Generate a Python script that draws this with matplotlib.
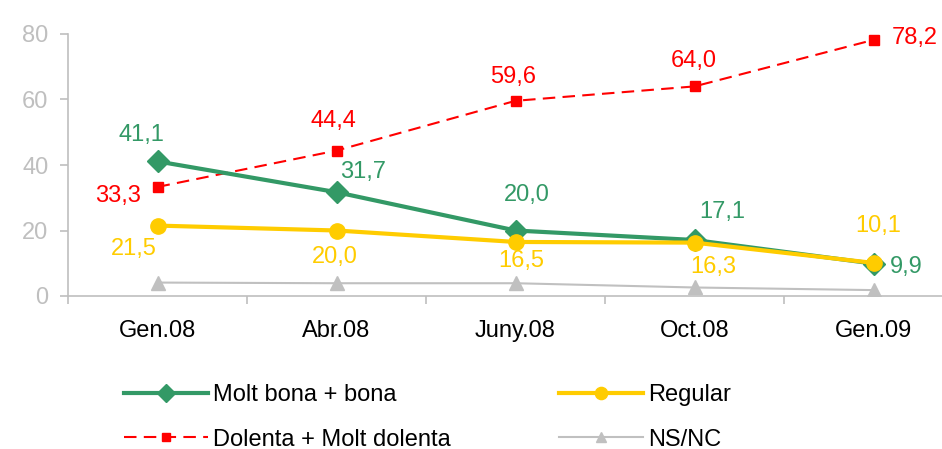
import matplotlib.pyplot as plt
from matplotlib.ticker import FixedLocator

plt.rcParams['font.family'] = ['Liberation Sans', 'DejaVu Sans']

periods = ['Gen.08', 'Abr.08', 'Juny.08', 'Oct.08', 'Gen.09']
bona = [41.1, 31.7, 20.0, 17.1, 9.9]
regular = [21.5, 20.0, 16.5, 16.3, 10.1]
dolenta = [33.3, 44.4, 59.6, 64.0, 78.2]
nsnc = [4.1, 3.9, 3.9, 2.6, 1.8]

green = '#339966'
yellow = '#FFCC00'
red = '#FF0000'
grey = '#C0C0C0'

fig = plt.figure(figsize=(9.42, 4.49), dpi=100)
ax = fig.add_axes([68 / 942, 153 / 449, 895 / 942, 262 / 449])

x = range(len(periods))
ax.plot(x, nsnc, color=grey, lw=1.5, marker='^', ms=9.5, label='NS/NC')
ax.plot(x, dolenta, color=red, lw=1.5, ls=(0, (6, 3.5)), marker='s', ms=7.7,
        label='Dolenta + Molt dolenta')
ax.plot(x, bona, color=green, lw=3, marker='D', ms=11, label='Molt bona + bona')
ax.plot(x, regular, color=yellow, lw=3, marker='o', ms=11, label='Regular')

def fmt(v):
    return f'{v:.1f}'.replace('.', ',')

# label offsets in pixels
bona_off = [(-16, 26), (27, 20), (11, 35), (28, 28), (33, -3)]
reg_off = [(-24, -23), (-2, -27), (6, -19), (19, -24), (5, 37)]
dol_off = [(-39, -9), (-3, 30), (-2, 24), (-1, 25), (41, 2)]

for vals, offs, c in [(bona, bona_off, green), (regular, reg_off, yellow),
                      (dolenta, dol_off, red)]:
    for i, v in enumerate(vals):
        ax.annotate(fmt(v), (i, v), xytext=offs[i], textcoords='offset pixels',
                    ha='center', va='center', color=c, fontsize=17)

ax.set_xlim(-0.5, 4.5)
ax.set_ylim(0, 80)
ax.set_yticks([0, 20, 40, 60, 80])
ax.set_xticks(list(x))
ax.set_xticklabels(periods)
ax.xaxis.set_minor_locator(FixedLocator([-0.5, 0.5, 1.5, 2.5, 3.5, 4.5]))
ax.tick_params(axis='x', which='major', length=0, pad=17, labelsize=17,
               colors='black')
ax.tick_params(axis='x', which='minor', length=6, width=1.2, color='#BFBFBF')
ax.tick_params(axis='y', length=6, width=1.2, color='#BFBFBF', labelcolor='#BFBFBF',
               labelsize=17, pad=8)
for s in ['top', 'right']:
    ax.spines[s].set_visible(False)
for s in ['left', 'bottom']:
    ax.spines[s].set_color('#BFBFBF')
    ax.spines[s].set_linewidth(1.2)

handles, labels = ax.get_legend_handles_labels()
order = [2, 1, 3, 0]
fig.legend([handles[i] for i in order], [labels[i] for i in order],
           ncol=2, loc='upper left', bbox_to_anchor=(103 / 942, 1 - 363 / 449),
           frameon=False, fontsize=17, handlelength=3.56, handletextpad=0.2,
           columnspacing=4.6, labelspacing=0.95, markerscale=0.8)

fig.savefig('out.png', dpi=100)
